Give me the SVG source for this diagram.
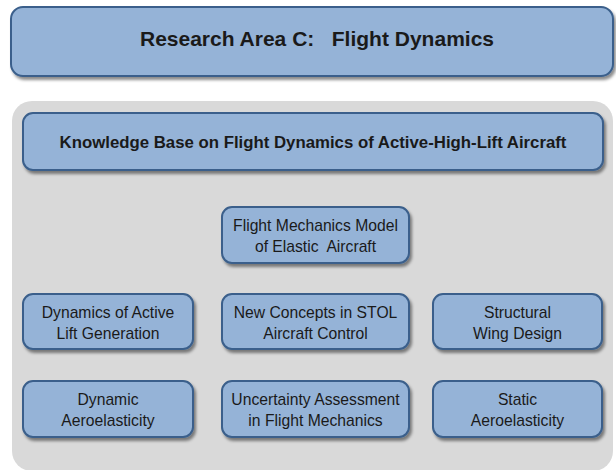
<svg xmlns="http://www.w3.org/2000/svg" width="616" height="470" viewBox="0 0 616 470">
  <style>
    .box { fill: #95B3D7; stroke: #3A5F8B; stroke-width: 2; filter: url(#shadow); }
    .panel { fill: #D9D9D9; }
    .t { font-family: "Liberation Sans", Arial, sans-serif; fill: #1a1a1a; text-anchor: middle; white-space: pre; }
    .title { font-size: 21px; font-weight: bold; }
    .sub { font-size: 16.8px; font-weight: bold; }
    .node { font-size: 15.7px; }
  </style>
  <defs>
    <filter id="shadow" x="-10%" y="-20%" width="120%" height="150%">
      <feDropShadow dx="2" dy="3" stdDeviation="1.6" flood-color="#000" flood-opacity="0.45"/>
    </filter>
  </defs>
  <rect width="616" height="470" fill="#ffffff"/>

  <g id="title">
    <rect class="box" x="11" y="7" width="602" height="69" rx="12"/>
    <text class="t title" x="317" y="45.5" xml:space="preserve">Research Area C:   Flight Dynamics</text>
  </g>

  <g id="panel">
    <rect class="panel" x="12" y="101" width="601" height="370" rx="20"/>
  </g>

  <g id="knowledge-base">
    <rect class="box" x="23" y="113" width="580" height="57" rx="10"/>
    <text class="t sub" x="313" y="148">Knowledge Base on Flight Dynamics of Active-High-Lift Aircraft</text>
  </g>

  <g id="flight-mechanics-model">
    <rect class="box" x="222" y="207" width="187" height="56" rx="10"/>
    <text class="t node" x="315.5" y="231">Flight Mechanics Model</text>
    <text class="t node" x="315.5" y="251.5" xml:space="preserve">of Elastic  Aircraft</text>
  </g>

  <g id="dynamics-active-lift">
    <rect class="box" x="23" y="294" width="170" height="55" rx="10"/>
    <text class="t node" x="108" y="318">Dynamics of Active</text>
    <text class="t node" x="108" y="338.5">Lift Generation</text>
  </g>

  <g id="new-concepts-stol">
    <rect class="box" x="222" y="294" width="187" height="55" rx="10"/>
    <text class="t node" x="315.5" y="318">New Concepts in STOL</text>
    <text class="t node" x="315.5" y="338.5">Aircraft Control</text>
  </g>

  <g id="structural-wing-design">
    <rect class="box" x="433" y="294" width="169" height="55" rx="10"/>
    <text class="t node" x="517.5" y="318">Structural</text>
    <text class="t node" x="517.5" y="338.5">Wing Design</text>
  </g>

  <g id="dynamic-aeroelasticity">
    <rect class="box" x="23" y="381" width="170" height="56" rx="10"/>
    <text class="t node" x="108" y="405">Dynamic</text>
    <text class="t node" x="108" y="425.5">Aeroelasticity</text>
  </g>

  <g id="uncertainty-assessment">
    <rect class="box" x="222" y="381" width="187" height="56" rx="10"/>
    <text class="t node" x="315.5" y="405">Uncertainty Assessment</text>
    <text class="t node" x="315.5" y="425.5">in Flight Mechanics</text>
  </g>

  <g id="static-aeroelasticity">
    <rect class="box" x="433" y="381" width="169" height="56" rx="10"/>
    <text class="t node" x="517.5" y="405">Static</text>
    <text class="t node" x="517.5" y="425.5">Aeroelasticity</text>
  </g>

  <g id="connectors"></g>
</svg>
